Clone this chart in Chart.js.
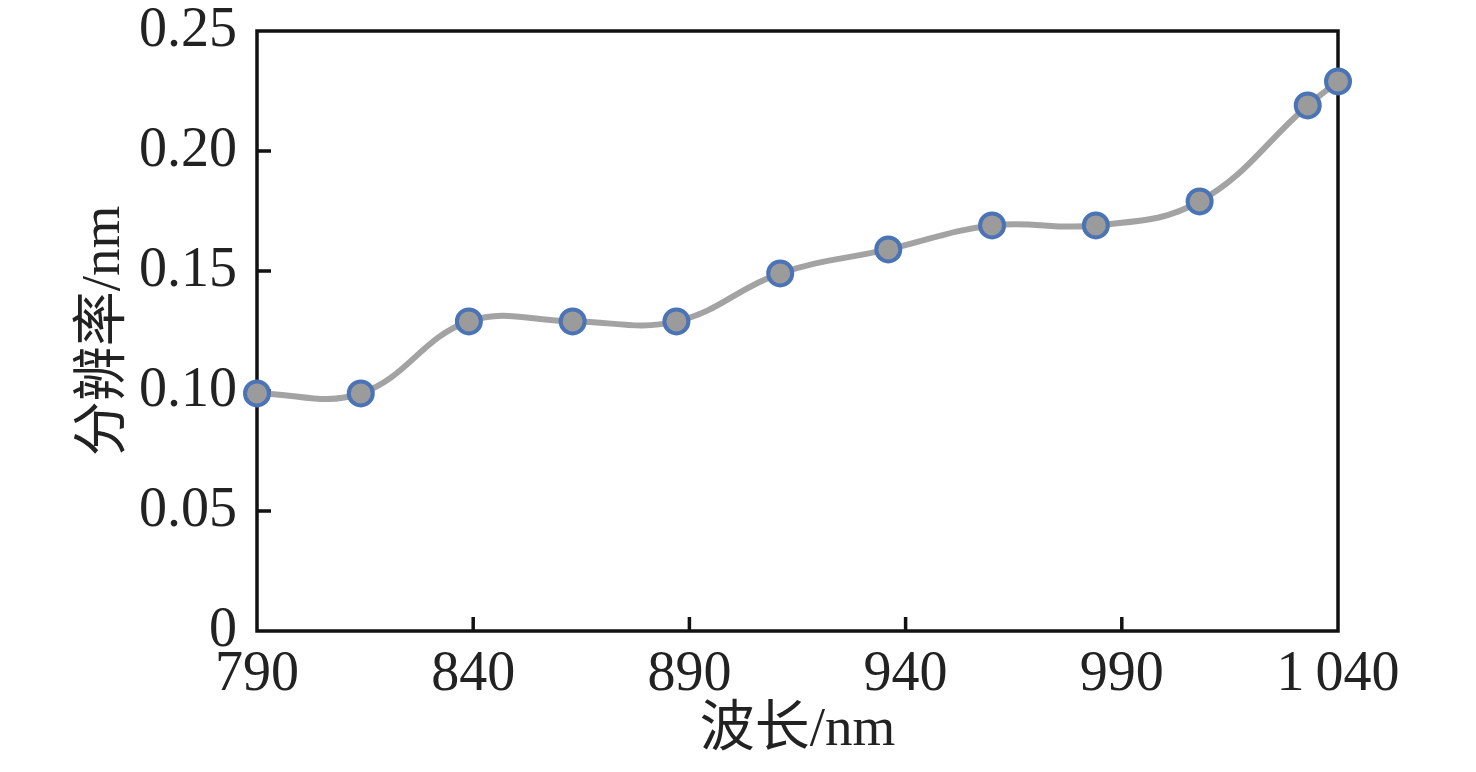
<!DOCTYPE html>
<html>
<head>
<meta charset="utf-8">
<script src="https://cdn.jsdelivr.net/npm/chart.js@4.4.1/dist/chart.umd.min.js"></script>
<style>
  html, body { margin: 0; padding: 0; background: #fff; }
  canvas { display: block; }
</style>
</head>
<body>
<canvas id="resChart" width="1476" height="772"></canvas>
<script>
// wavelength (nm) and resolution (nm)
const wavelengths = [790, 814, 839, 863, 887, 911, 936, 960, 984, 1008, 1033, 1040];
const resolution = [0.099, 0.099, 0.129, 0.129, 0.129, 0.149, 0.159, 0.169, 0.169, 0.179, 0.219, 0.229];
const xTicks = [790, 840, 890, 940, 990, 1040];
const yTicks = [0, 0.05, 0.10, 0.15, 0.20, 0.25];

const serif = '"Liberation Serif", "Noto Sans CJK SC", serif';

// box around the plot + inward tick marks
const framePlugin = {
    id: 'frame',
    beforeDatasetsDraw(chart) {
        const { ctx, chartArea: a, scales } = chart;
        ctx.save();
        ctx.strokeStyle = '#111';
        ctx.lineWidth = 3.5;
        ctx.strokeRect(a.left, a.top, a.right - a.left, a.bottom - a.top);
        ctx.beginPath();
        xTicks.slice(1, -1).forEach(v => {
            const px = scales.x.getPixelForValue(v);
            ctx.moveTo(px, a.bottom);
            ctx.lineTo(px, a.bottom - 14);
        });
        yTicks.slice(1, -1).forEach(v => {
            const py = scales.y.getPixelForValue(v);
            ctx.moveTo(a.left, py);
            ctx.lineTo(a.left + 14, py);
        });
        ctx.stroke();
        ctx.restore();
    }
};

const ctx = document.getElementById('resChart').getContext('2d');
const resChart = new Chart(ctx, {
    type: 'line',
    data: {
        datasets: [{
            data: wavelengths.map((w, i) => ({ x: w, y: resolution[i] })),
            borderColor: '#a3a3a3',
            borderWidth: 6,
            tension: 0.4,
            pointRadius: 12,
            pointBorderWidth: 4,
            pointBackgroundColor: '#9b9b9b',
            pointBorderColor: '#4a74b6',
            clip: false
        }]
    },
    options: {
        responsive: false,
        devicePixelRatio: 1,
        animation: false,
        layout: { padding: { top: 31, right: 138, bottom: 0, left: 0 } },
        plugins: { legend: { display: false }, tooltip: { enabled: false } },
        scales: {
            x: {
                type: 'linear',
                min: 790,
                max: 1040,
                afterBuildTicks: s => { s.ticks = xTicks.map(v => ({ value: v })); },
                afterFit: s => { s.height = 141; s.paddingLeft = 0; s.paddingRight = 0; },
                grid: { display: false, drawTicks: false },
                border: { display: false },
                ticks: {
                    padding: 11,
                    color: '#222',
                    font: { family: serif, size: 56 },
                    callback: v => v >= 1000 ? String(v).replace(/^(\d)/, '$1\u2009') : String(v)
                },
                title: {
                    display: true,
                    text: '波长/nm',
                    color: '#222',
                    font: { family: serif, size: 55 },
                    padding: { top: 8, bottom: 8 }
                }
            },
            y: {
                min: 0,
                max: 0.25,
                afterBuildTicks: s => { s.ticks = yTicks.map(v => ({ value: v })); },
                afterFit: s => { s.width = 257; s.paddingTop = 0; s.paddingBottom = 0; },
                grid: { display: false, drawTicks: false },
                border: { display: false },
                ticks: {
                    padding: 20,
                    color: '#222',
                    font: { family: serif, size: 56 },
                    callback: v => v === 0 ? '0' : v.toFixed(2)
                },
                title: {
                    display: true,
                    text: '分辨率/nm',
                    color: '#222',
                    font: { family: serif, size: 55 },
                    padding: { top: 72, bottom: 72 }
                }
            }
        }
    },
    plugins: [framePlugin]
});
</script>
</body>
</html>
